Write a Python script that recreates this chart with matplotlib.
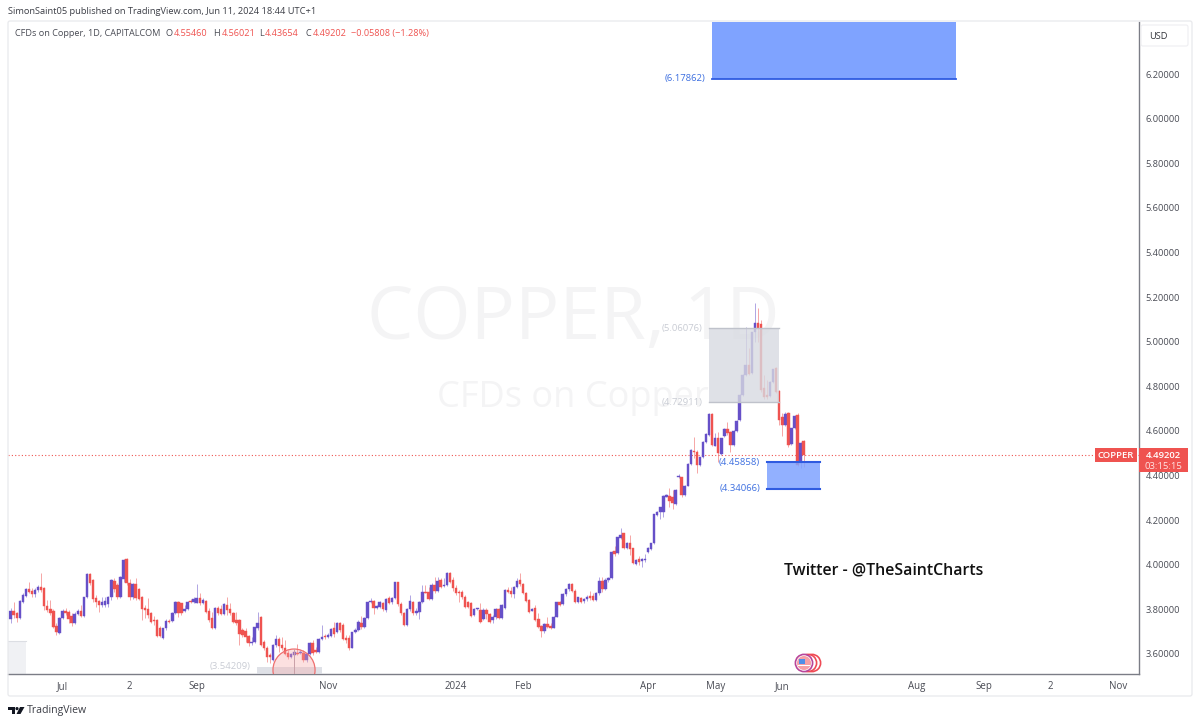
import matplotlib
matplotlib.use("Agg")
import matplotlib.pyplot as plt
from matplotlib.patches import Rectangle, Ellipse, Circle, Polygon, FancyBboxPatch

# candles (USD)
opens = [
    3.757, 3.793, 3.782, 3.760, 3.834, 3.861, 3.890, 3.884, 3.867, 3.887,
    3.902, 3.897, 3.816, 3.800, 3.794, 3.725, 3.695, 3.760, 3.794, 3.788,
    3.770, 3.740, 3.779, 3.793, 3.770, 3.854, 3.957, 3.932, 3.849, 3.837,
    3.819, 3.819, 3.822, 3.854, 3.929, 3.909, 3.854, 3.935, 4.024, 3.917,
    3.854, 3.912, 3.890, 3.857, 3.805, 3.802, 3.785, 3.752, 3.752, 3.718,
    3.671, 3.715, 3.748, 3.749, 3.782, 3.833, 3.827, 3.794, 3.800, 3.837,
    3.834, 3.830, 3.852, 3.830, 3.839, 3.793, 3.760, 3.715, 3.805, 3.800,
    3.779, 3.819, 3.800, 3.785, 3.752, 3.752, 3.707, 3.704, 3.682, 3.651,
    3.655, 3.718, 3.767, 3.655, 3.628, 3.595, 3.573, 3.640, 3.667, 3.640,
    3.625, 3.606, 3.588, 3.595, 3.606, 3.603, 3.606, 3.573, 3.600, 3.651,
    3.618, 3.610, 3.667, 3.680, 3.677, 3.680, 3.715, 3.700, 3.740, 3.730,
    3.673, 3.670, 3.628, 3.697, 3.707, 3.740, 3.722, 3.760, 3.831, 3.837,
    3.806, 3.812, 3.827, 3.797, 3.852, 3.831, 3.852, 3.921, 3.824, 3.785,
    3.730, 3.800, 3.834, 3.785, 3.790, 3.834, 3.879, 3.879, 3.846, 3.909,
    3.884, 3.932, 3.905, 3.909, 3.962, 3.932, 3.897, 3.879, 3.879, 3.857,
    3.834, 3.830, 3.775, 3.800, 3.797, 3.757, 3.797, 3.779, 3.752, 3.764,
    3.802, 3.760, 3.805, 3.887, 3.882, 3.869, 3.902, 3.932, 3.912, 3.875,
    3.842, 3.794, 3.808, 3.755, 3.725, 3.704, 3.734, 3.725, 3.718, 3.767,
    3.831, 3.822, 3.867, 3.890, 3.912, 3.884, 3.834, 3.852, 3.837, 3.845,
    3.860, 3.860, 3.842, 3.872, 3.927, 3.890, 3.932, 3.939, 4.062, 4.051,
    4.118, 4.141, 4.074, 4.096, 4.074, 4.002, 4.026, 4.018, 4.021, 4.059,
    4.069, 4.096, 4.223, 4.238, 4.238, 4.306, 4.308, 4.306, 4.273, 4.392,
    4.392, 4.313, 4.355, 4.452, 4.511, 4.507, 4.447, 4.482, 4.552, 4.582,
    4.676, 4.534, 4.567, 4.496, 4.577, 4.608, 4.597, 4.537, 4.600, 4.649,
    4.761, 4.851, 4.896, 4.858, 5.042, 5.082, 5.079, 4.791, 4.761, 4.757,
    4.821, 4.881, 4.780, 4.664, 4.626, 4.682, 4.540, 4.611, 4.671, 4.455,
    4.5546,
]
closes = [
    3.793, 3.775, 3.760, 3.836, 3.864, 3.890, 3.879, 3.867, 3.887, 3.899,
    3.887, 3.816, 3.797, 3.782, 3.719, 3.697, 3.763, 3.794, 3.785, 3.755,
    3.740, 3.779, 3.793, 3.770, 3.854, 3.957, 3.917, 3.845, 3.834, 3.819,
    3.834, 3.837, 3.857, 3.932, 3.890, 3.854, 3.944, 4.021, 3.917, 3.854,
    3.912, 3.849, 3.845, 3.800, 3.797, 3.775, 3.745, 3.748, 3.682, 3.682,
    3.715, 3.748, 3.745, 3.785, 3.833, 3.782, 3.782, 3.800, 3.834, 3.833,
    3.845, 3.849, 3.830, 3.842, 3.790, 3.752, 3.715, 3.805, 3.785, 3.779,
    3.822, 3.797, 3.782, 3.745, 3.737, 3.688, 3.685, 3.677, 3.648, 3.655,
    3.719, 3.740, 3.640, 3.625, 3.588, 3.585, 3.640, 3.667, 3.636, 3.625,
    3.600, 3.585, 3.600, 3.607, 3.600, 3.607, 3.573, 3.600, 3.648, 3.603,
    3.610, 3.667, 3.677, 3.674, 3.685, 3.710, 3.689, 3.740, 3.707, 3.667,
    3.663, 3.625, 3.697, 3.707, 3.745, 3.719, 3.763, 3.831, 3.837, 3.805,
    3.813, 3.831, 3.800, 3.845, 3.830, 3.852, 3.921, 3.824, 3.782, 3.728,
    3.800, 3.837, 3.782, 3.794, 3.834, 3.876, 3.875, 3.846, 3.909, 3.884,
    3.929, 3.902, 3.909, 3.962, 3.924, 3.894, 3.875, 3.875, 3.854, 3.809,
    3.812, 3.770, 3.802, 3.805, 3.745, 3.797, 3.778, 3.745, 3.767, 3.802,
    3.760, 3.819, 3.887, 3.879, 3.867, 3.902, 3.927, 3.912, 3.875, 3.837,
    3.790, 3.802, 3.752, 3.722, 3.704, 3.734, 3.719, 3.718, 3.767, 3.831,
    3.819, 3.867, 3.890, 3.912, 3.884, 3.834, 3.854, 3.834, 3.845, 3.857,
    3.849, 3.842, 3.872, 3.927, 3.890, 3.932, 3.942, 4.059, 4.048, 4.123,
    4.133, 4.074, 4.096, 4.069, 4.006, 4.021, 4.014, 4.024, 4.026, 4.074,
    4.096, 4.226, 4.238, 4.258, 4.310, 4.313, 4.288, 4.276, 4.335, 4.398,
    4.313, 4.355, 4.452, 4.515, 4.507, 4.447, 4.482, 4.552, 4.585, 4.676,
    4.537, 4.567, 4.499, 4.567, 4.608, 4.589, 4.537, 4.600, 4.646, 4.761,
    4.851, 4.896, 4.855, 5.042, 5.082, 5.060, 4.783, 4.754, 4.754, 4.821,
    4.876, 4.776, 4.649, 4.626, 4.676, 4.537, 4.611, 4.667, 4.447, 4.547,
    4.49202,
]
highs = [
    3.805, 3.834, 3.790, 3.842, 3.872, 3.894, 3.924, 3.894, 3.894, 3.909,
    3.964, 3.902, 3.842, 3.842, 3.800, 3.737, 3.767, 3.800, 3.805, 3.797,
    3.782, 3.790, 3.800, 3.819, 3.857, 3.962, 3.962, 3.935, 3.864, 3.842,
    3.857, 3.857, 3.860, 3.935, 3.939, 3.920, 3.950, 4.024, 4.029, 3.935,
    3.920, 3.939, 3.894, 3.860, 3.819, 3.849, 3.790, 3.770, 3.755, 3.725,
    3.718, 3.755, 3.755, 3.790, 3.837, 3.837, 3.830, 3.819, 3.837, 3.845,
    3.854, 3.912, 3.872, 3.849, 3.842, 3.805, 3.790, 3.812, 3.815, 3.819,
    3.827, 3.854, 3.827, 3.790, 3.790, 3.755, 3.715, 3.715, 3.685, 3.677,
    3.722, 3.790, 3.770, 3.663, 3.636, 3.603, 3.645, 3.685, 3.677, 3.677,
    3.663, 3.618, 3.606, 3.618, 3.645, 3.618, 3.618, 3.603, 3.655, 3.663,
    3.633, 3.670, 3.730, 3.689, 3.692, 3.715, 3.745, 3.745, 3.745, 3.737,
    3.685, 3.685, 3.700, 3.715, 3.752, 3.770, 3.767, 3.834, 3.849, 3.842,
    3.819, 3.837, 3.834, 3.849, 3.860, 3.857, 3.924, 3.924, 3.834, 3.790,
    3.805, 3.864, 3.837, 3.805, 3.837, 3.909, 3.909, 3.902, 3.917, 3.947,
    3.947, 3.939, 3.939, 3.969, 3.969, 3.944, 3.909, 3.887, 3.887, 3.864,
    3.839, 3.834, 3.805, 3.808, 3.830, 3.805, 3.805, 3.785, 3.775, 3.805,
    3.808, 3.824, 3.890, 3.902, 3.902, 3.905, 3.939, 3.962, 3.917, 3.879,
    3.845, 3.805, 3.819, 3.782, 3.730, 3.737, 3.767, 3.737, 3.770, 3.834,
    3.837, 3.872, 3.894, 3.917, 3.917, 3.890, 3.857, 3.857, 3.849, 3.864,
    3.884, 3.872, 3.879, 3.947, 3.947, 3.939, 3.947, 4.063, 4.086, 4.126,
    4.163, 4.144, 4.103, 4.133, 4.077, 4.024, 4.039, 4.029, 4.048, 4.081,
    4.099, 4.229, 4.241, 4.261, 4.313, 4.316, 4.343, 4.335, 4.338, 4.407,
    4.395, 4.358, 4.455, 4.518, 4.571, 4.514, 4.485, 4.555, 4.589, 4.679,
    4.682, 4.589, 4.597, 4.570, 4.611, 4.641, 4.600, 4.603, 4.649, 4.765,
    4.854, 5.067, 4.970, 5.045, 5.172, 5.150, 5.097, 4.851, 4.828, 4.824,
    4.879, 4.888, 4.783, 4.679, 4.686, 4.686, 4.614, 4.670, 4.679, 4.552,
    4.56021,
]
lows = [
    3.740, 3.760, 3.745, 3.757, 3.827, 3.857, 3.872, 3.857, 3.857, 3.879,
    3.879, 3.797, 3.790, 3.775, 3.715, 3.685, 3.688, 3.755, 3.775, 3.737,
    3.725, 3.734, 3.775, 3.764, 3.764, 3.849, 3.909, 3.834, 3.812, 3.790,
    3.812, 3.812, 3.812, 3.842, 3.879, 3.845, 3.849, 3.924, 3.909, 3.842,
    3.845, 3.842, 3.842, 3.752, 3.760, 3.760, 3.737, 3.730, 3.677, 3.674,
    3.668, 3.707, 3.737, 3.745, 3.779, 3.764, 3.775, 3.790, 3.797, 3.827,
    3.827, 3.827, 3.819, 3.824, 3.782, 3.745, 3.710, 3.710, 3.775, 3.775,
    3.775, 3.775, 3.775, 3.737, 3.730, 3.640, 3.677, 3.655, 3.636, 3.640,
    3.648, 3.707, 3.636, 3.618, 3.565, 3.558, 3.570, 3.633, 3.610, 3.618,
    3.595, 3.576, 3.580, 3.588, 3.595, 3.598, 3.565, 3.565, 3.595, 3.595,
    3.603, 3.603, 3.663, 3.665, 3.670, 3.674, 3.677, 3.692, 3.700, 3.663,
    3.648, 3.618, 3.625, 3.692, 3.704, 3.710, 3.715, 3.755, 3.827, 3.779,
    3.800, 3.805, 3.794, 3.790, 3.824, 3.824, 3.845, 3.815, 3.775, 3.725,
    3.725, 3.794, 3.775, 3.775, 3.755, 3.830, 3.872, 3.842, 3.842, 3.875,
    3.879, 3.894, 3.899, 3.905, 3.917, 3.884, 3.864, 3.834, 3.845, 3.805,
    3.805, 3.767, 3.770, 3.797, 3.740, 3.752, 3.755, 3.737, 3.737, 3.757,
    3.755, 3.755, 3.800, 3.872, 3.857, 3.849, 3.894, 3.905, 3.869, 3.834,
    3.785, 3.791, 3.749, 3.715, 3.677, 3.695, 3.715, 3.710, 3.715, 3.764,
    3.815, 3.819, 3.860, 3.884, 3.879, 3.830, 3.827, 3.827, 3.830, 3.839,
    3.842, 3.837, 3.837, 3.864, 3.879, 3.887, 3.924, 3.935, 4.039, 4.048,
    4.114, 4.069, 4.069, 4.044, 4.002, 3.999, 3.999, 3.988, 4.014, 4.054,
    4.066, 4.093, 4.220, 4.204, 4.216, 4.303, 4.261, 4.249, 4.270, 4.388,
    4.306, 4.310, 4.352, 4.447, 4.477, 4.410, 4.444, 4.479, 4.547, 4.579,
    4.534, 4.531, 4.462, 4.493, 4.574, 4.582, 4.507, 4.534, 4.597, 4.646,
    4.758, 4.848, 4.851, 4.855, 5.000, 5.000, 4.776, 4.742, 4.742, 4.754,
    4.817, 4.768, 4.626, 4.577, 4.622, 4.529, 4.537, 4.608, 4.444, 4.432,
    4.43654,
]

price_ticks = [3.6, 3.8, 4.0, 4.2, 4.4, 4.6, 4.8, 5.0, 5.2, 5.4, 5.6, 5.8, 6.0, 6.2]
time_bars = [17, 39, 61, 104, 146, 168, 209, 231, 253, 297, 319, 341, 363]
time_labels = ["Jul", "2", "Sep", "Nov", "2024", "Feb", "Apr", "May", "Jun", "Aug", "Sep", "2", "Nov"]

target_low, target_high = 4.34066, 4.45858
grey_low, grey_high = 4.72911, 5.06076
far_target = 6.17862
base_level = 3.54209
last_price = 4.49202

UP = "#6650c8"
DOWN = "#ef5350"
LINE = "#2f5be0"
FILL = "#7fa3ff"
FONT = "Open Sans"
TEXT = "#4a4c55"

plt.rcParams["font.family"] = [FONT, "DejaVu Sans"]

W, H = 1200, 725
fig = plt.figure(figsize=(W / 100, H / 100), dpi=100, facecolor="white")


def overlay(z):
    a = fig.add_axes([0, 0, 1, 1], zorder=z)
    a.set_xlim(0, W)
    a.set_ylim(H, 0)
    a.axis("off")
    return a


back = overlay(0)
ui = overlay(3)

# watermark sits behind the candles
back.text(573, 339, "COPPER, 1D", fontsize=53, color="#f4f4f5", ha="center", va="baseline")
back.text(573, 407, "CFDs on Copper", fontsize=26, color="#f4f4f5", ha="center", va="baseline")

left, right, top, bottom = 8, 1138.5, 22, 674
ax = fig.add_axes([left / W, (H - bottom) / H, (right - left) / W, (bottom - top) / H], zorder=1)
ax.patch.set_alpha(0)
px_per_bar = 3.05
ax.set_xlim(-0.875, (right - 10.67) / px_per_bar)
ax.set_ylim(3.510, 6.434)

bars = list(range(len(opens)))
colors = [UP if c >= o else DOWN for o, c in zip(opens, closes)]
ax.vlines(bars, lows, highs, colors=colors, linewidth=0.6, alpha=0.6, zorder=3)
ax.bar(bars, [abs(c - o) for o, c in zip(opens, closes)], bottom=[min(o, c) for o, c in zip(opens, closes)],
       width=0.8, color=colors, edgecolor=colors, linewidth=0.3, zorder=4)

# last price line
ax.axhline(last_price, color=DOWN, linewidth=0.8, linestyle=(0, (1, 2)), zorder=2)

# drawings
ax.add_patch(Rectangle((229.8, far_target), 80.3, 1.0, facecolor=FILL, edgecolor="none", zorder=5))
ax.plot([229.8, 310.1], [far_target, far_target], color=LINE, linewidth=1.3, zorder=6)

ax.add_patch(Rectangle((248, target_low), 17.4, target_high - target_low, facecolor=FILL, alpha=0.85, edgecolor="none", zorder=5))
ax.plot([248, 265.4], [target_high, target_high], color=LINE, linewidth=1.5, zorder=6)
ax.plot([248, 265.4], [target_low, target_low], color=LINE, linewidth=1.5, zorder=6)

ax.add_patch(Rectangle((228.9, grey_low), 23, grey_high - grey_low, facecolor="#d8dae1", alpha=0.8, edgecolor="none", zorder=5))
ax.plot([228.9, 251.9], [grey_high, grey_high], color="#bfc2cb", linewidth=1, zorder=6)
ax.plot([228.9, 251.9], [grey_low, grey_low], color="#bfc2cb", linewidth=1, zorder=6)

ax.add_patch(Rectangle((-1, 3.3), 6, 0.358, facecolor="#f0f1f4", edgecolor="none", zorder=1))
ax.plot([-1, 5], [3.658, 3.658], color="#dcdee3", linewidth=0.8, zorder=1)

ax.add_patch(Rectangle((80.8, 3.3), 21.3, base_level - 3.3, facecolor="#d8dae1", alpha=0.8, edgecolor="none", zorder=5))
ax.add_patch(Ellipse((92.9, 3.528), 13.8, 0.188, facecolor="#f7a8a8", alpha=0.35, edgecolor="none", zorder=6))
ax.add_patch(Ellipse((92.9, 3.528), 13.8, 0.188, facecolor="none", edgecolor="#ef6f6f", linewidth=0.9, zorder=6))
ax.plot([92.9, 92.9], [3.51, 3.62], color="#c9a0a8", linewidth=0.7, zorder=6)

label_size = 6.8
ax.text(227.7, far_target, "(6.17862)", color="#3d6fe0", fontsize=label_size, ha="right", va="center", zorder=7)
ax.text(245.7, target_high, "(4.45858)", color="#3d6fe0", fontsize=label_size, ha="right", va="center", zorder=7)
ax.text(245.7, target_low, "(4.34066)", color="#3d6fe0", fontsize=label_size, ha="right", va="center", zorder=7)
ax.text(226.7, grey_high, "(5.06076)", color="#c9ccd4", fontsize=label_size, ha="right", va="center", zorder=7)
ax.text(226.7, grey_low, "(4.72911)", color="#c9ccd4", fontsize=label_size, ha="right", va="center", zorder=7)
ax.text(78.5, base_level, "(3.54209)", color="#c9ccd4", fontsize=label_size, ha="right", va="center", zorder=7)

ax.text(253.6, 3.973, "Twitter - @TheSaintCharts", color="#111111", fontsize=11.4, fontweight="semibold",
        ha="left", va="center", zorder=7)

# axes
for side in ("top", "left"):
    ax.spines[side].set_visible(False)
for side in ("right", "bottom"):
    ax.spines[side].set_color("#7b7d86")
    ax.spines[side].set_linewidth(1)
ax.yaxis.tick_right()
ax.set_yticks(price_ticks)
ax.set_yticklabels(["%.5f" % p for p in price_ticks])
ax.set_xticks(time_bars)
ax.set_xticklabels(time_labels)
ax.tick_params(axis="y", length=0, pad=5, labelsize=6.7, labelcolor=TEXT)
ax.tick_params(axis="x", length=0, pad=5, labelsize=7, labelcolor=TEXT)

# frame and header
ui.add_patch(FancyBboxPatch((8, 21), 1184, 675, boxstyle="round,pad=0,rounding_size=2",
                            facecolor="none", edgecolor="#e8e9ec", linewidth=0.9))
ui.text(8, 11, "SimonSaint05 published on TradingView.com, Jun 11, 2024 18:44 UTC+1", fontsize=6.7, color="#3c3e46",
        ha="left", va="center")
ui.text(15, 33, "CFDs on Copper, 1D, CAPITALCOM", fontsize=6.6, color=TEXT, ha="left", va="center")
for x, s, c in [(166, "O", TEXT), (174, "4.55460", DOWN), (213, "H", TEXT), (222, "4.56021", DOWN),
                (259, "L", TEXT), (265, "4.43654", DOWN), (305, "C", TEXT), (313, "4.49202", DOWN),
                (351, "\u22120.05808 (\u22121.28%)", DOWN)]:
    ui.text(x, 33, s, fontsize=6.6, color=c, ha="left", va="center")

ui.add_patch(FancyBboxPatch((1141, 25), 47, 21, boxstyle="round,pad=0,rounding_size=2",
                            facecolor="white", edgecolor="#eeeef1", linewidth=0.8))
ui.text(1149, 36, "USD", fontsize=6.7, color="#33353c", ha="left", va="center")

# last price tags
ui.add_patch(Rectangle((1095, 448), 42, 14, facecolor=DOWN, edgecolor="none"))
ui.add_patch(Rectangle((1138.5, 448), 49.5, 24, facecolor=DOWN, edgecolor="none"))
ui.text(1116, 455, "COPPER", fontsize=6.8, color="white", ha="center", va="center", fontweight="semibold")
ui.text(1163, 455, "4.49202", fontsize=6.8, color="white", ha="center", va="center", fontweight="semibold")
ui.text(1163, 466, "03:15:15", fontsize=6.8, color="#ffe3e3", ha="center", va="center")

# events icon
for cx, edge in [(812, "#ef4a55"), (808, "#ef4a55"), (804, "#b8459a")]:
    ui.add_patch(Circle((cx, 663), 8.6, facecolor="white", edgecolor=edge, linewidth=1.2))
ui.add_patch(Circle((804, 663), 7, facecolor="#f6a0a6", edgecolor="none"))
ui.add_patch(Rectangle((798, 664.5), 12, 1.6, facecolor="white", edgecolor="none"))
ui.add_patch(Rectangle((798.5, 658.5), 6.5, 5, facecolor="#4f8fe8", edgecolor="none"))

# logo
ui.add_patch(Polygon([(8, 707), (15, 707), (15, 714), (11.5, 714), (11.5, 710), (8, 710)], facecolor="#131722", edgecolor="none"))
ui.add_patch(Circle((17, 708.6), 1.6, facecolor="#131722", edgecolor="none"))
ui.add_patch(Polygon([(20, 707), (24.5, 707), (20.5, 714), (16.5, 714)], facecolor="#131722", edgecolor="none"))
ui.text(27, 711, "TradingView", fontsize=7.6, color="#3c3e46", ha="left", va="center")

fig.savefig("out.png", dpi=100, facecolor="white")
